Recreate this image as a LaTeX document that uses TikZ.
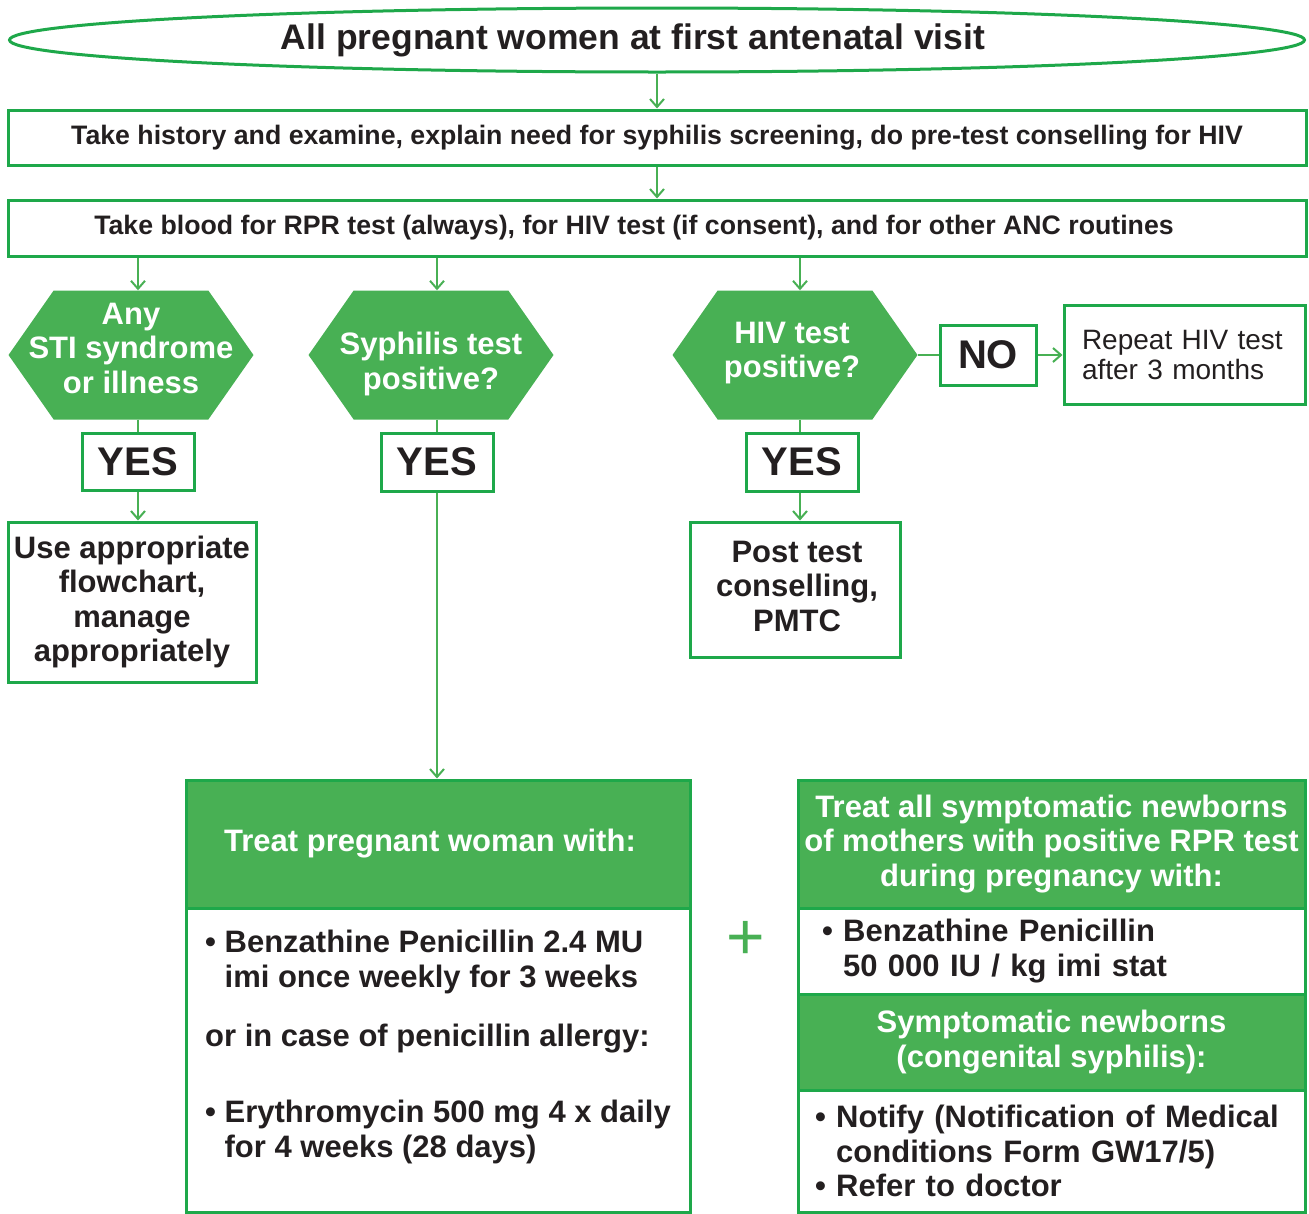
\documentclass[tikz,border=0pt]{standalone}
\usepackage{fontspec}
\setmainfont{Liberation Sans}
\usetikzlibrary{shapes.geometric,shapes.symbols,arrows.meta}

\definecolor{leafgreen}{RGB}{72,176,84}
\definecolor{edgegreen}{RGB}{30,168,74}
\definecolor{inkgray}{RGB}{35,31,32}

\begin{document}
\begin{tikzpicture}[x=1pt,y=-1pt,
	every node/.style={font=\bfseries\fontsize{31}{34.5}\selectfont, text=inkgray, inner sep=0pt},
	box/.style={rectangle, draw=edgegreen, line width=3pt},
	wide/.style={box, minimum width=1298, minimum height=55, font=\bfseries\fontsize{26.7}{30}\selectfont},
	hexa/.style={signal, signal to=west and east, signal pointer angle=110, fill=leafgreen, minimum width=245, minimum height=129},
	hexatext/.style={text=white, align=center},
	answer/.style={box, minimum width=112, minimum height=57, font=\bfseries\fontsize{40}{44}\selectfont},
	head/.style={box, fill=leafgreen, text=white, align=center, minimum height=128},
	link/.style={draw=leafgreen, line width=2pt},
	arr/.style={link, -{Straight Barb[length=8pt,width=14pt]}}]
\useasboundingbox (0,0) rectangle (1309,1213);

\path (657,40) node[ellipse, draw=edgegreen, line width=3pt, minimum width=1295, minimum height=64, font=\bfseries\fontsize{35.5}{40}\selectfont] (visit) {All pregnant women at first antenatal visit\hspace*{48pt}}
	(657,137.5) node[wide] (history) {Take history and examine, explain need for syphilis screening, do pre-test conselling for HIV}
	(657,228) node[wide, minimum height=56] (blood) {Take blood for RPR test (always), for HIV test (if consent), and for other ANC routines\hspace*{46pt}}
	(131,355) node[hexa] (sti) {}
	(131,348) node[hexatext] (stitext) {Any\\STI syndrome\\or illness}
	(431,355) node[hexa] (syph) {}
	(431,364) node[hexatext] (syphtext) {Syphilis test\\positive?}
	(795,355) node[hexa] (hiv) {}
	(792,353) node[hexatext] (hivtext) {HIV test\\positive?}
	(138,461.5) node[answer] (yes1) {YES}
	(437,462) node[answer, minimum height=58] (yes2) {YES}
	(802,462) node[answer, minimum height=58] (yes3) {YES}
	(988,355) node[answer, minimum width=96, minimum height=60] (no) {NO}
	(1184.5,355) node[box, minimum width=241, minimum height=99, text width=205, inner xsep=18, align=left, font=\fontsize{28}{30}\selectfont] (rep) {Repeat HIV test\\after 3 months}
	(132,602) node[box, minimum width=248, minimum height=160, align=center] (use) {Use appropriate\\flowchart,\\manage\\appropriately}
	(795,589.5) node[box, minimum width=210, minimum height=135] (post) {}
	(797,586) node[align=center] (posttext) {Post test\\conselling,\\PMTC}
	(438,844) node[head, minimum width=504] (treat) {Treat pregnant woman with:\hspace*{16pt}}
	(438,1060) node[box, minimum width=504, minimum height=304] (treatb) {}
	(205,930) node[anchor=north west, align=left, font=\bfseries\fontsize{31}{35}\selectfont] (treatl) {\textbullet\ Benzathine Penicillin 2.4 MU\\
		\hphantom{\textbullet\ }imi once weekly for 3 weeks\\[24pt]
		or in case of penicillin allergy:\\[41pt]
		\textbullet\ Erythromycin 500 mg 4 x daily\\
		\hphantom{\textbullet\ }for 4 weeks (28 days)}
	(746,940) node[text=leafgreen, font=\fontsize{66}{66}\selectfont] (plus) {+}
	(1051.5,844) node[head, minimum width=507] (newb) {Treat all symptomatic newborns\\of mothers with positive RPR test\\during pregnancy with:}
	(1051.5,951) node[box, minimum width=507, minimum height=86, text width=459, inner xsep=24, align=left] (newbb) {\textbullet\ Benzathine Penicillin\\
		\hphantom{\textbullet\ }50 000 IU / kg imi stat}
	(1051.5,1042) node[head, minimum width=507, minimum height=96] (cong) {Symptomatic newborns\\(congenital syphilis):}
	(1051.5,1151) node[box, minimum width=507, minimum height=122, text width=473, inner xsep=17, align=left] (congb) {\textbullet\ Notify (Notification of Medical\\
		\hphantom{\textbullet\ }conditions Form GW17/5)\\
		\textbullet\ Refer to doctor}
	;

\draw[arr] (visit) -- (history);
\draw[arr] (history) -- (blood);
\draw[arr] (blood.south -| yes1) -- (yes1 |- sti.north);
\draw[arr] (blood.south -| yes2) -- (yes2 |- syph.north);
\draw[arr] (blood.south -| 800,0) -- (hiv.north -| 800,0);

\draw[link] (sti.south -| yes1) -- (yes1);
\draw[link] (syph.south -| yes2) -- (yes2);
\draw[link] (hiv.south -| 800,0) -- (yes3.north -| 800,0);
\draw[link] (hiv) -- (no);
\draw[arr] (no) -- (rep);

\draw[arr] (yes1) -- (yes1 |- use.north);
\draw[arr] (yes2) -- (yes2 |- treat.north);
\draw[arr] (yes3.south -| 800,0) -- (post.north -| 800,0);
\end{tikzpicture}
\end{document}
